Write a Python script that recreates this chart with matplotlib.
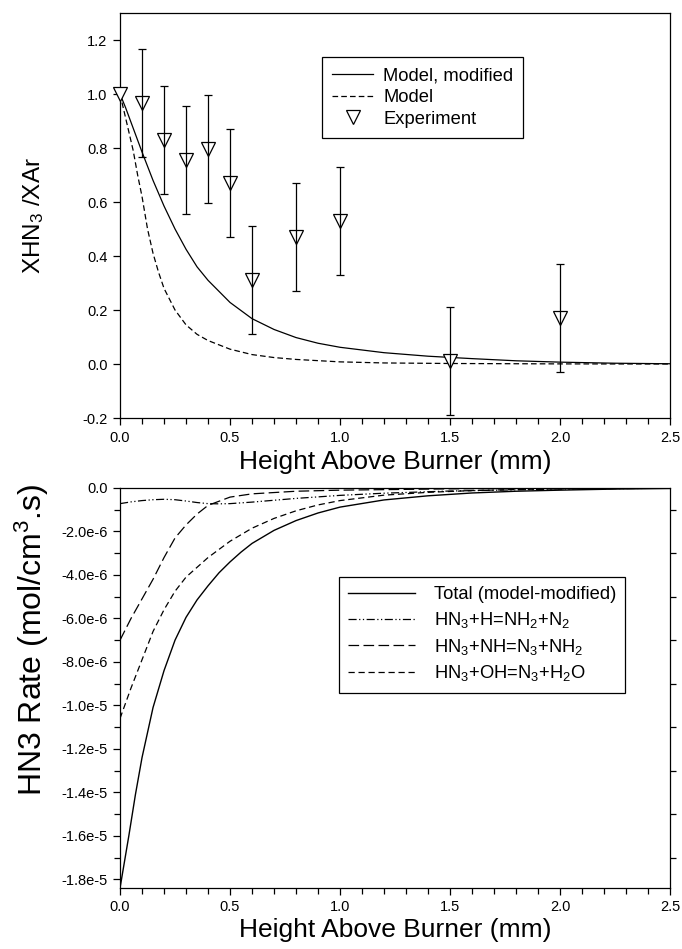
import matplotlib
matplotlib.use("Agg")
import matplotlib.pyplot as plt
from matplotlib.ticker import MultipleLocator, FixedLocator, FixedFormatter
import numpy as np

plt.rcParams['font.family'] = ['Liberation Sans', 'DejaVu Sans']
plt.rcParams['mathtext.default'] = 'regular'

# ---------------- Top panel data ----------------
exp_x = [0.0, 0.1, 0.2, 0.3, 0.4, 0.5, 0.6, 0.8, 1.0, 1.5, 2.0]
exp_y = [1.0, 0.965, 0.83, 0.755, 0.795, 0.67, 0.31, 0.47, 0.53, 0.01, 0.17]
exp_err = [0.0, 0.2, 0.2, 0.2, 0.2, 0.2, 0.2, 0.2, 0.2, 0.2, 0.2]

mod_x = [0, 0.025, 0.05, 0.075, 0.1, 0.15, 0.2, 0.25, 0.3, 0.35, 0.4, 0.5, 0.6,
         0.7, 0.8, 0.9, 1.0, 1.2, 1.4, 1.6, 1.8, 2.0, 2.25, 2.5]
mod_y = [1.0, 0.95, 0.895, 0.84, 0.785, 0.68, 0.585, 0.5, 0.425, 0.36, 0.31, 0.228,
         0.168, 0.128, 0.098, 0.077, 0.062, 0.042, 0.029, 0.02, 0.012, 0.007, 0.003, 0.001]

base_x = [0, 0.02, 0.04, 0.06, 0.08, 0.1, 0.125, 0.15, 0.175, 0.2, 0.25, 0.3, 0.35,
          0.4, 0.5, 0.6, 0.7, 0.8, 1.0, 1.2, 1.5, 2.0, 2.5]
base_y = [1.0, 0.93, 0.86, 0.79, 0.7, 0.62, 0.5, 0.41, 0.34, 0.28, 0.2, 0.145, 0.11,
          0.087, 0.055, 0.035, 0.024, 0.017, 0.008, 0.004, 0.002, 0.0005, 0.0]

top_yticks = [-0.2, 0.0, 0.2, 0.4, 0.6, 0.8, 1.0, 1.2]
top_ytick_labels = ['-0.2', '0.0', '0.2', '0.4', '0.6', '0.8', '1.0', '1.2']
xticks = [0.0, 0.5, 1.0, 1.5, 2.0, 2.5]
xtick_labels = ['0.0', '0.5', '1.0', '1.5', '2.0', '2.5']

# ---------------- Bottom panel data (units of 1e-6 mol/cm3.s) ----------------
tot_x = [0, 0.02, 0.04, 0.07, 0.1, 0.15, 0.2, 0.25, 0.3, 0.35, 0.4, 0.45, 0.5, 0.55,
         0.6, 0.7, 0.8, 0.9, 1.0, 1.2, 1.4, 1.6, 1.8, 2.0, 2.25, 2.5]
tot_y = [-18.4, -17.2, -16.0, -14.1, -12.4, -10.1, -8.4, -7.0, -5.95, -5.15, -4.5,
         -3.9, -3.4, -2.95, -2.55, -1.95, -1.5, -1.15, -0.88, -0.55, -0.36, -0.23,
         -0.15, -0.1, -0.05, -0.02]

h_x = [0, 0.05, 0.1, 0.15, 0.2, 0.25, 0.3, 0.35, 0.4, 0.45, 0.5, 0.6, 0.8, 1.0,
       1.2, 1.5, 2.0, 2.5]
h_y = [-0.72, -0.64, -0.58, -0.54, -0.52, -0.54, -0.6, -0.67, -0.72, -0.73, -0.72,
       -0.65, -0.48, -0.34, -0.24, -0.14, -0.05, -0.01]

nh_x = [0, 0.05, 0.1, 0.15, 0.2, 0.25, 0.3, 0.35, 0.4, 0.5, 0.6, 0.8, 1.0, 1.5, 2.0, 2.5]
nh_y = [-7.0, -6.0, -5.1, -4.2, -3.2, -2.3, -1.7, -1.2, -0.8, -0.42, -0.27, -0.15,
        -0.1, -0.04, -0.01, 0.0]

oh_x = [0, 0.05, 0.1, 0.15, 0.2, 0.25, 0.3, 0.4, 0.5, 0.6, 0.7, 0.8, 0.9, 1.0, 1.2,
        1.4, 1.6, 1.8, 2.0, 2.25, 2.5]
oh_y = [-10.6, -9.2, -7.9, -6.6, -5.6, -4.75, -4.1, -3.2, -2.45, -1.85, -1.4, -1.05,
        -0.78, -0.58, -0.33, -0.2, -0.12, -0.07, -0.04, -0.02, -0.01]

bot_yticks = [0, -2e-6, -4e-6, -6e-6, -8e-6, -1.0e-5, -1.2e-5, -1.4e-5, -1.6e-5, -1.8e-5]
bot_ytick_labels = ['0.0', '-2.0e-6', '-4.0e-6', '-6.0e-6', '-8.0e-6', '-1.0e-5',
                    '-1.2e-5', '-1.4e-5', '-1.6e-5', '-1.8e-5']
bot_yminor = [-1e-6, -3e-6, -5e-6, -7e-6, -9e-6, -1.1e-5, -1.3e-5, -1.5e-5, -1.7e-5]

SCALE = 1e-6

fig = plt.figure(figsize=(6.82, 9.49), dpi=100)
ax1 = fig.add_axes([0.176, 0.5595, 0.8065, 0.4268])
ax2 = fig.add_axes([0.176, 0.0643, 0.8065, 0.4215])

lw = 0.9
tick_fs = 10.5
xlabel_fs = 19
leg_fs = 13.2

# ---------- top ----------
ax1.plot(mod_x, mod_y, color='black', lw=lw, ls='-', label='Model, modified', zorder=2)
ax1.plot(base_x, base_y, color='black', lw=lw, ls=(0, (4.5, 2.5)), label='Model', zorder=2)
ax1.plot(exp_x, exp_y, ls='none', marker='v', markersize=10, markerfacecolor='white',
         markeredgecolor='black', markeredgewidth=0.9, label='Experiment', zorder=3,
         clip_on=False)
ex = [x for x, e in zip(exp_x, exp_err) if e > 0]
ey = [y for y, e in zip(exp_y, exp_err) if e > 0]
ee = [e for e in exp_err if e > 0]
ax1.errorbar(ex, ey, yerr=ee, fmt='none', ecolor='black', elinewidth=0.9,
             capsize=3, capthick=0.9, zorder=4)

ax1.set_xlim(0, 2.5)
ax1.set_ylim(-0.2, 1.3)
ax1.xaxis.set_major_locator(FixedLocator(xticks))
ax1.xaxis.set_major_formatter(FixedFormatter(xtick_labels))
ax1.xaxis.set_minor_locator(MultipleLocator(0.1))
ax1.yaxis.set_major_locator(FixedLocator(top_yticks))
ax1.yaxis.set_major_formatter(FixedFormatter(top_ytick_labels))
ax1.tick_params(which='both', direction='out', top=False, right=False,
                labelsize=tick_fs, width=0.9)
ax1.tick_params(which='major', length=5, pad=4)
ax1.tick_params(which='minor', length=4)
ax1.set_xlabel('Height Above Burner (mm)', fontsize=xlabel_fs)
ax1.set_ylabel('XHN$_3$ /XAr', fontsize=17.5)
ax1.xaxis.set_label_coords(0.5, -0.078)
ax1.yaxis.set_label_coords(-0.135, 0.5)

leg1 = ax1.legend(loc='upper left', bbox_to_anchor=(0.367, 0.891), fontsize=leg_fs,
                  frameon=True, fancybox=False, edgecolor='black', framealpha=1,
                  handlelength=2.24, handletextpad=0.55, borderpad=0.55,
                  labelspacing=0.26, borderaxespad=0)
leg1.get_frame().set_linewidth(0.9)

# ---------- bottom ----------
ax2.plot(tot_x, np.array(tot_y) * SCALE, color='black', lw=1.0, ls='-',
         label='Total (model-modified)')
ax2.plot(h_x, np.array(h_y) * SCALE, color='black', lw=lw,
         ls=(0, (6.5, 2, 1, 2, 1, 2)), label='HN$_3$+H=NH$_2$+N$_2$')
ax2.plot(nh_x, np.array(nh_y) * SCALE, color='black', lw=lw,
         ls=(0, (8.5, 3.5)), label='HN$_3$+NH=N$_3$+NH$_2$')
ax2.plot(oh_x, np.array(oh_y) * SCALE, color='black', lw=lw,
         ls=(0, (5, 3)), label='HN$_3$+OH=N$_3$+H$_2$O')

ax2.set_xlim(0, 2.5)
ax2.set_ylim(-1.84e-5, 0)
ax2.xaxis.set_major_locator(FixedLocator(xticks))
ax2.xaxis.set_major_formatter(FixedFormatter(xtick_labels))
ax2.xaxis.set_minor_locator(MultipleLocator(0.1))
ax2.yaxis.set_major_locator(FixedLocator(bot_yticks))
ax2.yaxis.set_major_formatter(FixedFormatter(bot_ytick_labels))
ax2.yaxis.set_minor_locator(FixedLocator(bot_yminor))
ax2.tick_params(which='both', direction='out', top=False, right=False,
                labelsize=tick_fs, width=0.9)
ax2.tick_params(which='major', length=5, pad=4)
ax2.tick_params(which='minor', length=4)
ax2.tick_params(axis='y', which='minor', right=True)
ax2.set_xlabel('Height Above Burner (mm)', fontsize=xlabel_fs)
ax2.set_ylabel('HN3 Rate (mol/cm$^3$.s)', fontsize=23)
ax2.xaxis.set_label_coords(0.5, -0.075)
ax2.yaxis.set_label_coords(-0.125, 0.62)

leg2 = ax2.legend(loc='upper left', bbox_to_anchor=(0.398, 0.7775), fontsize=leg_fs,
                  frameon=True, fancybox=False, edgecolor='black', framealpha=1,
                  handlelength=3.66, handletextpad=1.0, borderpad=0.5,
                  labelspacing=0.37, borderaxespad=0)
leg2.get_frame().set_linewidth(0.9)

for ax in (ax1, ax2):
    for s in ax.spines.values():
        s.set_linewidth(0.9)

fig.savefig('out.png', dpi=100)
